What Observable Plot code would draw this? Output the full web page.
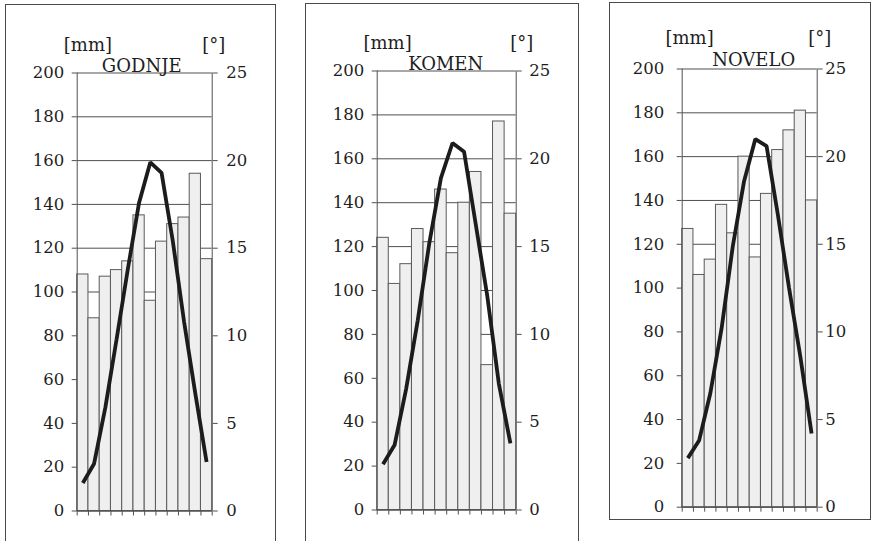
<!DOCTYPE html>
<html>
<head>
<meta charset="utf-8">
<script src="https://cdn.jsdelivr.net/npm/d3@7"></script>
<script src="https://cdn.jsdelivr.net/npm/@observablehq/plot@0.6"></script>
<style>
  html, body { margin: 0; padding: 0; background: #fff; }
  #root { position: relative; width: 874px; height: 541px; overflow: hidden; background: #fff; }
  .panel { position: absolute; top: 0; }
  .frame { position: absolute; border: 1.5px solid #4a4a4a; box-sizing: border-box; }
  #root svg, #root svg text { font-family: "DejaVu Serif", "Liberation Serif", serif !important; }
</style>
</head>
<body>
<div id="root"></div>
<script>
// Monthly precipitation [mm] and mean air temperature [°C], January..December
const stations = ["GODNJE", "KOMEN", "NOVELO"];
const months = [1, 2, 3, 4, 5, 6, 7, 8, 9, 10, 11, 12];

const precipGodnje = [108, 88, 107, 110, 114, 135, 96, 123, 131, 134, 154, 115];
const precipKomen  = [124, 103, 112, 128, 122, 146, 117, 140, 154, 66, 177, 135];
const precipNovelo = [127, 106, 113, 138, 125, 160, 114, 143, 163, 172, 181, 140];

const tempGodnje = [1.6, 2.7, 5.9, 9.8, 13.8, 17.6, 19.9, 19.3, 15.4, 10.8, 6.7, 2.8];
const tempKomen  = [2.6, 3.7, 6.9, 10.8, 15.2, 18.9, 20.9, 20.4, 16.3, 12.2, 7.2, 3.8];
const tempNovelo = [2.8, 3.8, 6.5, 10.2, 14.9, 18.6, 21.0, 20.6, 16.7, 12.5, 8.6, 4.2];

const mmTicks = [0, 20, 40, 60, 80, 100, 120, 140, 160, 180, 200];
const degTicks = [0, 5, 10, 15, 20, 25];
const unitLeft = "[mm]";
const unitRight = "[°]";

const precip = [precipGodnje, precipKomen, precipNovelo];
const temps = [tempGodnje, tempKomen, tempNovelo];

const layout = [
  {left: 6,   width: 269, mt: 72.5, mb: 30.5, ml: 70.7, mr: 63.3, padL: 8,  padR: 9,
   frame: {left: 5, top: 4, width: 271, height: 560}, titleDx: -3, titleDy: -1.5, unitDy: -22, mmDx: -13.4, degDx: -10},
  {left: 306, width: 272, mt: 70.5, mb: 31.5, ml: 70.7, mr: 62.3, padL: 8,  padR: 8,
   frame: {left: 305, top: 3, width: 274, height: 560}, titleDx: -1, titleDy: -1, unitDy: -22, mmDx: -13.7, degDx: -6},
  {left: 610, width: 260, mt: 68.5, mb: 34.3, ml: 71.7, mr: 53.3, padL: 13, padR: 3,
   frame: {left: 609, top: 2, width: 262, height: 518}, titleDx: 4, titleDy: -3.5, unitDy: -25, mmDx: -16.7, degDx: -9}
];

const root = document.getElementById("root");
const scaleT = 200 / 25; // degrees -> mm on the shared vertical scale
const ink = "#1e1e1e";

stations.forEach((name, k) => {
  const L = layout[k];
  const frame = document.createElement("div");
  frame.className = "frame";
  Object.assign(frame.style, {left: L.frame.left + "px", top: L.frame.top + "px", width: L.frame.width + "px", height: L.frame.height + "px"});
  root.appendChild(frame);

  const bars = months.map((m, i) => ({m, p: precip[k][i], t: temps[k][i]}));

  const chart = Plot.plot({
    width: L.width, height: 541,
    marginTop: L.mt, marginBottom: L.mb, marginLeft: L.ml, marginRight: L.mr,
    style: {background: "transparent", overflow: "visible"},
    x: {type: "linear", domain: [0, 12]},
    y: {domain: [0, 200]},
    marks: [
      Plot.ruleY(mmTicks, {y: d => d, stroke: "#505050", strokeWidth: 1}),
      Plot.rectY(bars, {x1: d => d.m - 1, x2: d => d.m, y1: 0, y2: d => d.p, fill: "#efefef", stroke: "#5a5a5a", strokeWidth: 1}),
      Plot.ruleY([0], {stroke: "#505050", strokeWidth: 1}),
      Plot.ruleX([0, 12], {stroke: "#505050", strokeWidth: 1}),
      Plot.axisY(mmTicks, {anchor: "left", tickSize: 5, tickPadding: L.padL, label: null, stroke: "#505050", fill: ink, fontSize: 16.5}),
      Plot.axisY(degTicks.map(d => d * scaleT), {anchor: "right", tickSize: 5, tickPadding: L.padR, tickFormat: d => d / scaleT, label: null, stroke: "#505050", fill: ink, fontSize: 16.5}),
      Plot.axisX(d3.range(0, 13), {anchor: "bottom", tickSize: 5, tickFormat: () => "", label: null, stroke: "#505050"}),
      Plot.line(bars, {x: d => d.m - 0.5, y: d => d.t * scaleT, stroke: "#1c1c1c", strokeWidth: 3.8, strokeLinejoin: "miter", strokeLinecap: "butt"}),
      Plot.text([name], {frameAnchor: "top", lineAnchor: "bottom", dx: L.titleDx, dy: L.titleDy, fontSize: 18, fill: ink}),
      Plot.text([unitLeft], {frameAnchor: "top-left", textAnchor: "start", lineAnchor: "bottom", dx: L.mmDx, dy: L.unitDy, fontSize: 18, fill: ink}),
      Plot.text([unitRight], {frameAnchor: "top-right", textAnchor: "start", lineAnchor: "bottom", dx: L.degDx, dy: L.unitDy, fontSize: 18, fill: ink})
    ]
  });
  const holder = document.createElement("div");
  holder.className = "panel";
  holder.style.left = L.left + "px";
  holder.appendChild(chart);
  root.appendChild(holder);
});
</script>
</body>
</html>
